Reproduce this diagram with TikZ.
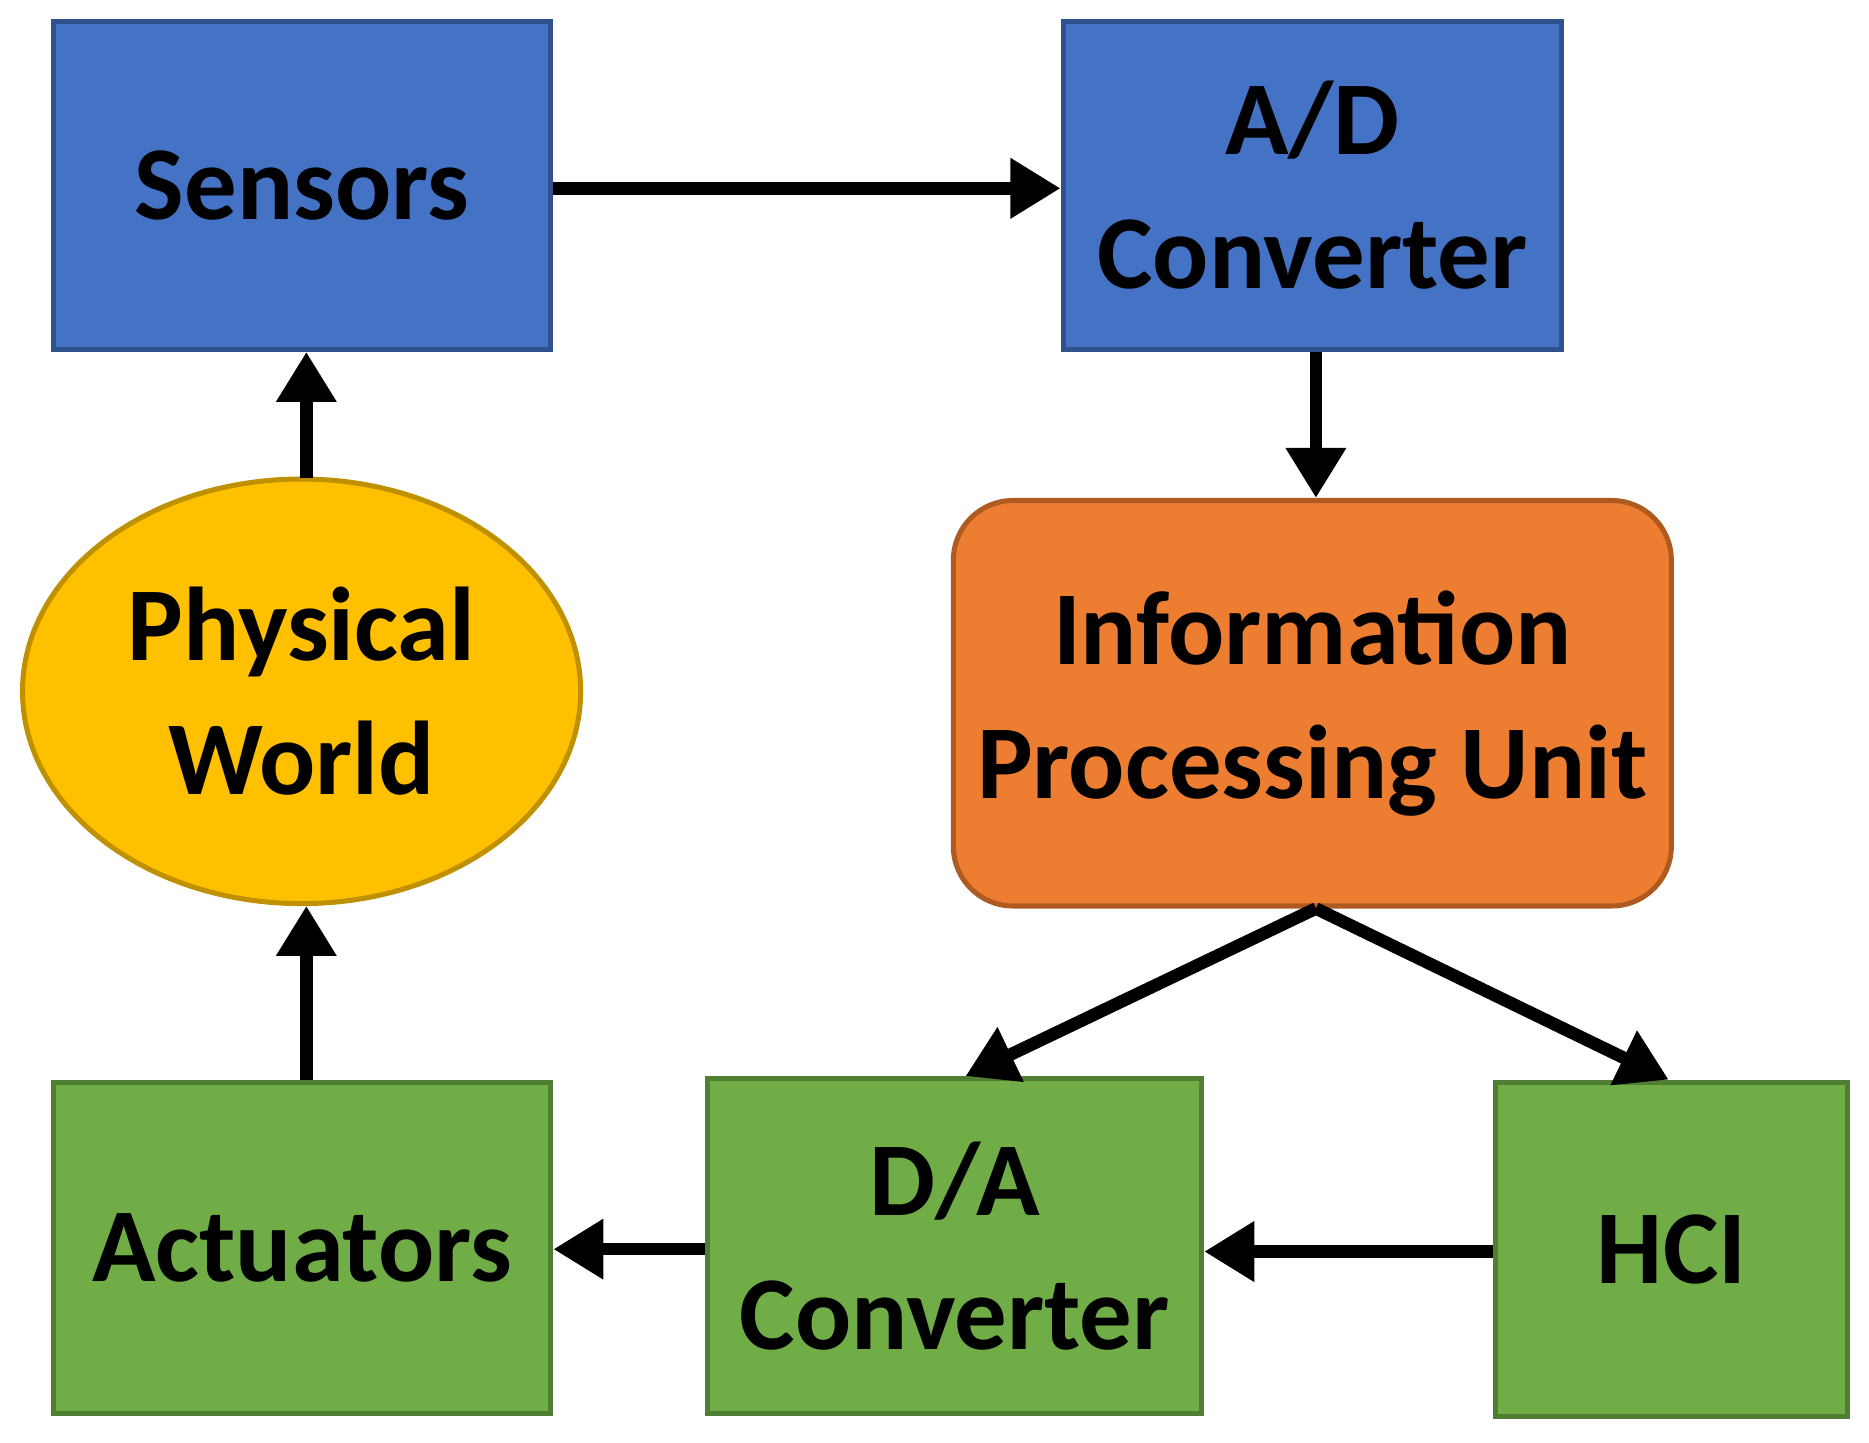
\documentclass[tikz,border=0pt]{standalone}
\usepackage{fontspec}
\setmainfont{Carlito}
\usetikzlibrary{arrows.meta,shapes.geometric}
\definecolor{bl}{HTML}{4472C4}\definecolor{blb}{HTML}{2F528F}
\definecolor{og}{HTML}{ED7D31}\definecolor{ogb}{HTML}{AE5A21}
\definecolor{yl}{HTML}{FFC000}\definecolor{ylb}{HTML}{BF9000}
\definecolor{gr}{HTML}{70AD47}\definecolor{grb}{HTML}{507E32}
\begin{document}
\begin{tikzpicture}[x=0.01cm,y=-0.01cm,
  box/.style={draw,line width=1.2pt,inner sep=0,align=center,font=\fontsize{25}{32}\selectfont\bfseries},
  arr/.style={line width=3pt,-{Triangle[length=0.42cm,width=0.48cm]}}]
\useasboundingbox (0,0) rectangle (1568,1210);
\node[box,fill=bl,draw=blb,minimum width=4.17cm,minimum height=2.75cm] (s) at (253.5,155.5) {Sensors};
\node[box,fill=bl,draw=blb,minimum width=4.18cm,minimum height=2.75cm] (ad) at (1101,155.5) {A/D\\Converter};
\node[box,fill=og,draw=ogb,rounded corners=0.5cm,minimum width=6.02cm,minimum height=3.4cm] (ipu) at (1101,590) {Information\\Processing Unit};
\node[box,fill=yl,draw=ylb,ellipse,minimum width=4.68cm,minimum height=3.56cm] (pw) at (253,580) {Physical\\World};
\node[box,fill=gr,draw=grb,minimum width=4.17cm,minimum height=2.78cm] (act) at (253.5,1047) {Actuators};
\node[box,fill=gr,draw=grb,minimum width=4.14cm,minimum height=2.81cm] (da) at (801,1045.5) {D/A\\Converter};
\node[box,fill=gr,draw=grb,minimum width=2.95cm,minimum height=2.8cm] (hci) at (1402.5,1048) {HCI};
\draw[arr] (s.east|-0,158) -- (ad.west|-0,158);
\draw[arr] (ad.south-|1104,0) -- (ipu.north-|1104,0);
\draw[arr] (ipu.south-|1104,0) -- (da.north-|810,0);
\draw[arr] (ipu.south-|1104,0) -- (hci.north-|1400,0);
\draw[arr] (hci.west|-0,1050) -- (da.east|-0,1050);
\draw[arr] (da.west|-0,1048) -- (act.east|-0,1048);
\draw[arr] (act.north-|257,0) -- (257,760);
\draw[arr] (257,401) -- (s.south-|257,0);
\end{tikzpicture}
\end{document}
